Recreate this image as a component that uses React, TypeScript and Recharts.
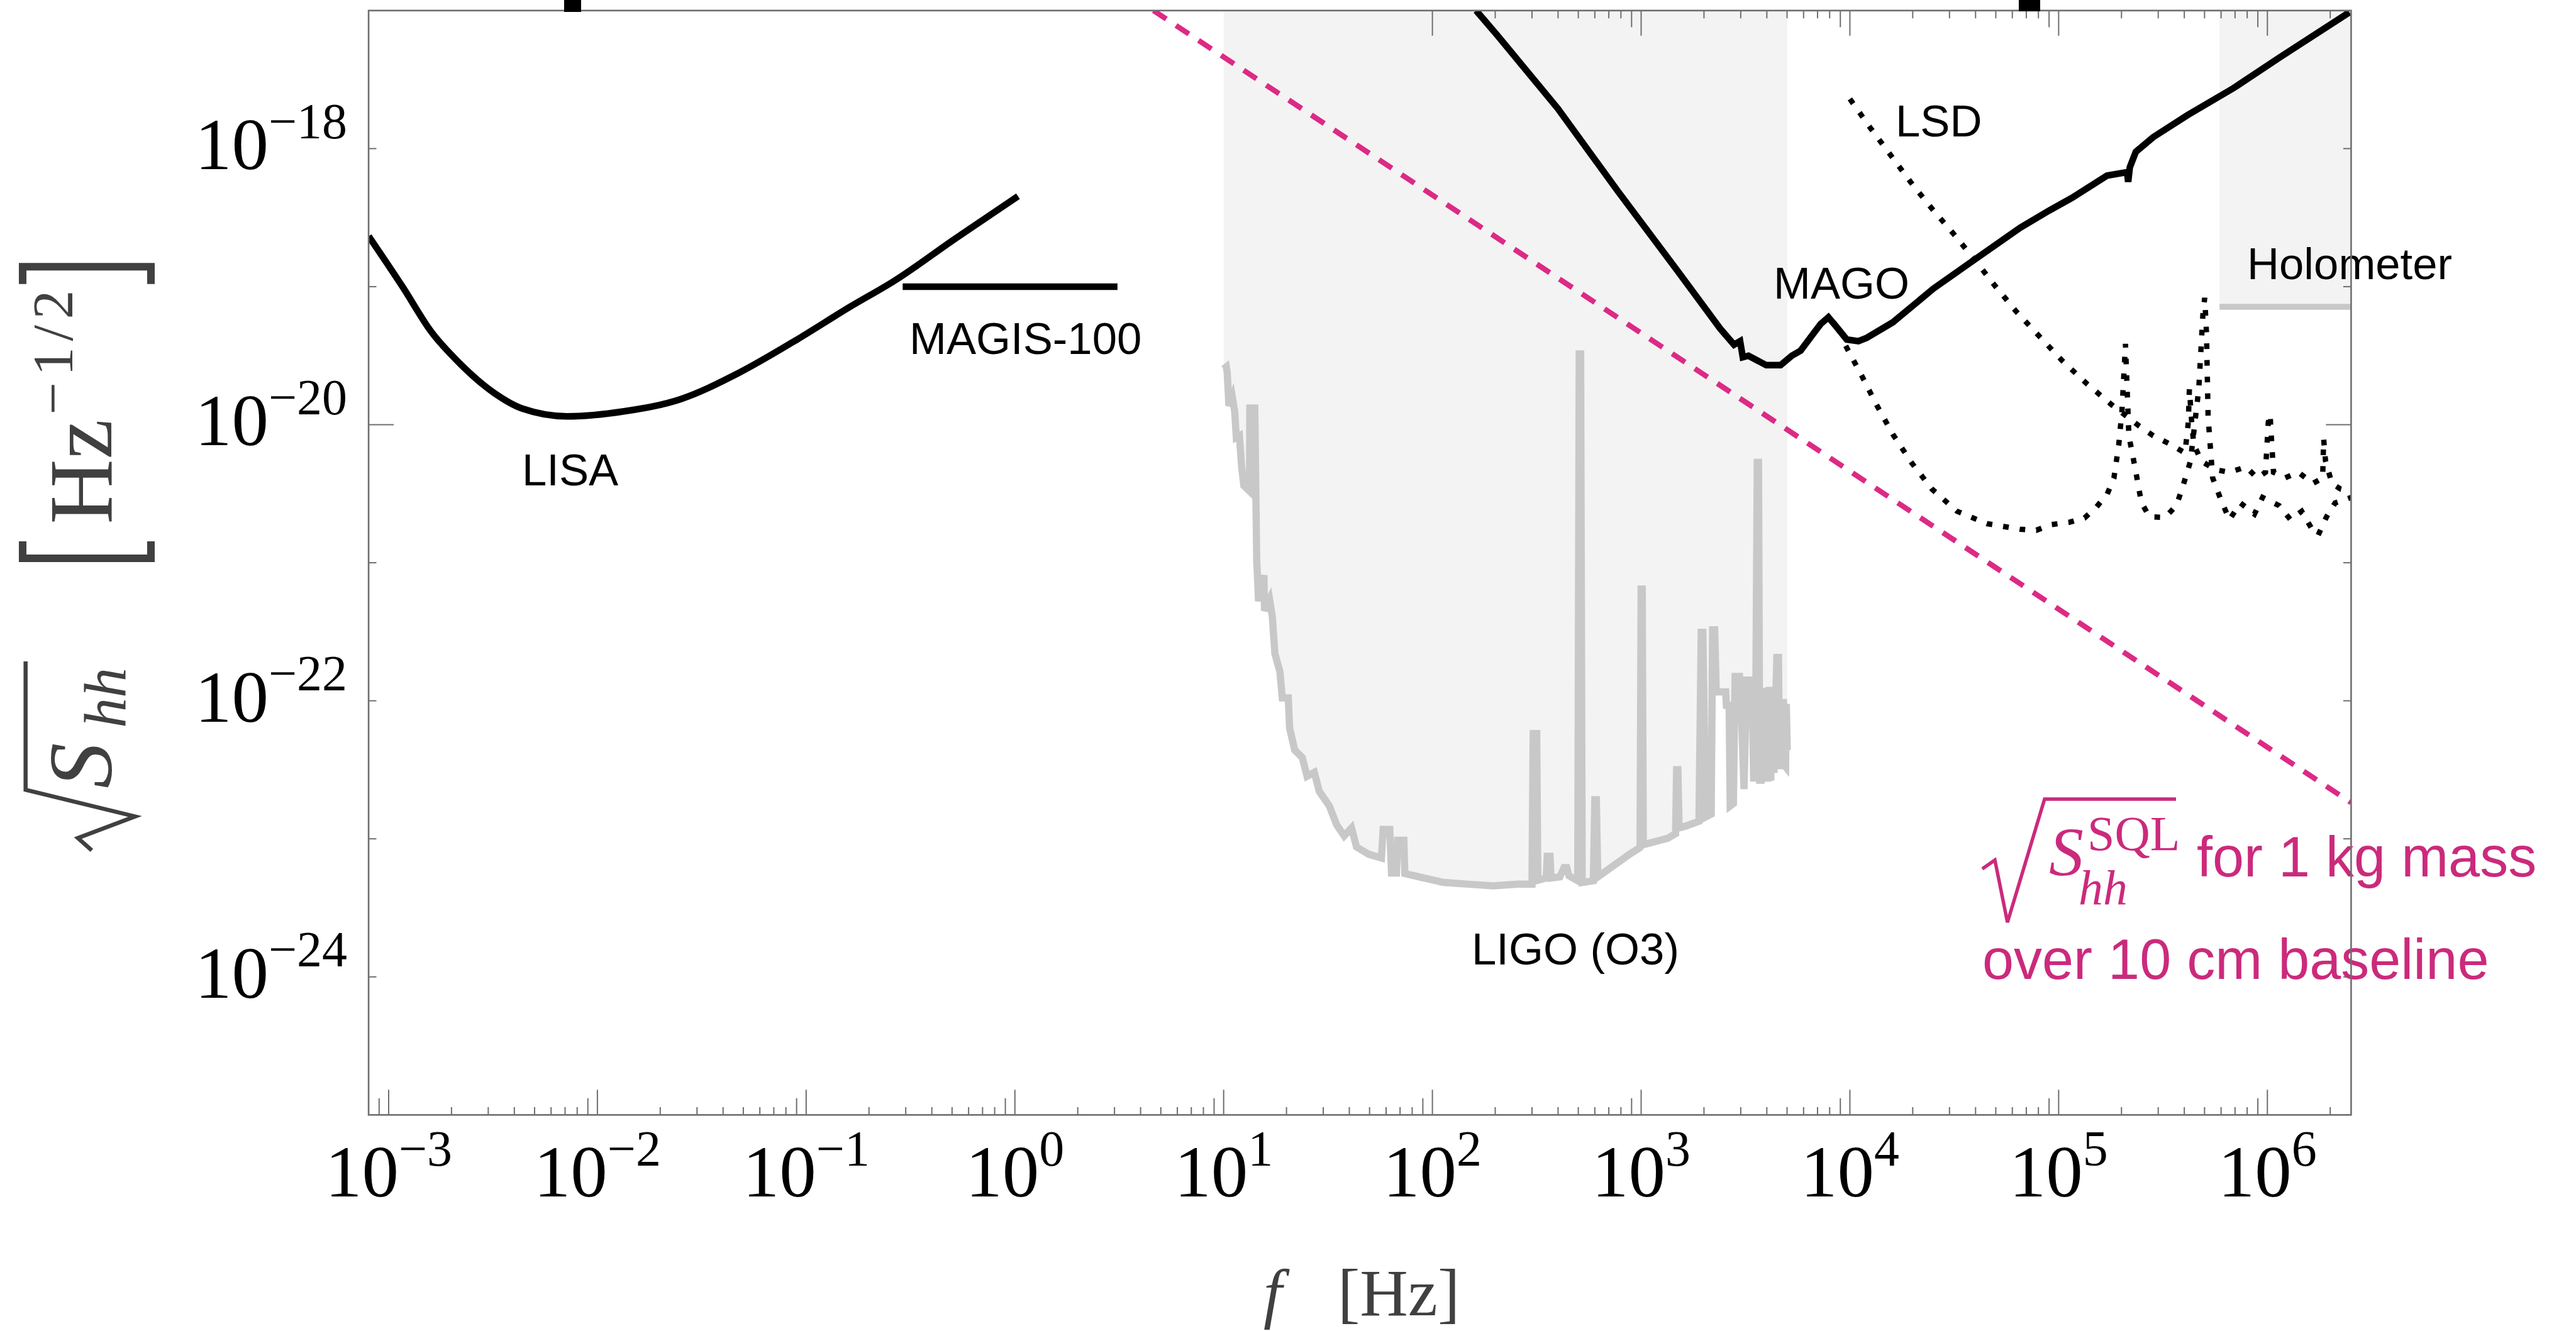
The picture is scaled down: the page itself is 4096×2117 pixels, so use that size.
import React from 'react'
import { ComposedChart, Line, Area, XAxis, YAxis } from 'recharts'

const W = 4096
const H = 2117
const PLOT = { left: 586.1, right: 3738.4, top: 16.8, bottom: 1773.3 }

const F_MIN = 8.015e-4
const F_MAX = 2.518e6
const S_MIN = 1e-25
const S_MAX = 1e-17

// tick layout (exponents)
const X_DECADES = [-4, -3, -2, -1, 0, 1, 2, 3, 4, 5, 6]
const X_MULT = [1, 2, 3, 4, 5, 6, 7, 8, 9]
const Y_DECADES = [-24, -23, -22, -21, -20, -19, -18]
const Y_LABELED = [-24, -22, -20, -18]
const TOP_TICKS_FROM = 100

const FRAME = '#6e6e6e'
const LIGO_GRAY = '#c8c8c8'
const SHADE = '#f3f3f3'
const PINK = '#dc2a85'
const PINK_TEXT = '#cb2a7c'
const TITLE = '#404040'

// [f (Hz), sqrt(S_hh)]
const lisa: [number, number][] = [
  [8.02e-4, 2.32e-19], [1.17e-3, 9.89e-20], [1.6e-3, 4.71e-20], [2.19e-3, 2.78e-20],
  [3.18e-3, 1.71e-20], [4.36e-3, 1.31e-20], [7.16e-3, 1.15e-20], [1.34e-2, 1.25e-20],
  [2.5e-2, 1.53e-20], [4.7e-2, 2.35e-20], [8.79e-2, 4.03e-20], [0.164, 7.21e-20],
  [0.264, 1.1e-19], [0.514, 2.21e-19], [1.035, 4.52e-19],
]

const magis100: [number, number][] = [[0.29, 1.0e-19], [3.1, 1.0e-19]]

const mago: [number, number][] = [
  [162, 1.0e-17], [204, 6.65e-18], [399, 1.95e-18], [773, 4.92e-19], [1500, 1.29e-19],
  [2388, 4.98e-20], [2786, 3.8e-20], [2979, 4.03e-20], [3069, 3.08e-20], [3266, 3.16e-20],
  [3972, 2.7e-20], [4656, 2.7e-20], [5272, 3.16e-20], [5808, 3.44e-20], [6607, 4.46e-20],
  [7244, 5.36e-20], [7889, 6.0e-20], [8492, 5.26e-20], [9661, 4.14e-20], [10990, 4.03e-20],
  [12050, 4.26e-20], [16070, 5.52e-20], [25180, 9.7e-20], [39360, 1.56e-19], [65460, 2.67e-19],
  [90160, 3.56e-19], [115900, 4.4e-19], [170600, 6.37e-19], [212800, 6.75e-19], [215300, 5.75e-19],
  [219300, 7.33e-19], [234400, 9.48e-19], [283800, 1.21e-18], [415000, 1.75e-18],
  [690200, 2.75e-18], [1148000, 4.59e-18], [2472000, 9.72e-18],
]

const lsdUpper: [number, number][] = [
  [1.0e4, 2.29e-18], [1.25e4, 1.42e-18], [1.56e4, 9.06e-19], [1.95e4, 5.75e-19], [2.44e4, 3.76e-19],
  [3.14e4, 2.41e-19], [3.94e4, 1.58e-19], [4.97e4, 1.01e-19], [6.28e4, 6.58e-20], [8.07e4, 4.38e-20],
  [1.04e5, 2.91e-20], [1.36e5, 1.99e-20], [1.8e5, 1.39e-20], [2.42e5, 9.84e-21], [2.84e5, 8.32e-21],
  [3.45e5, 7.18e-21], [4.03e5, 6.24e-21], [4.18e5, 1.04e-20], [4.23e5, 1.81e-20], [4.34e5, 1.04e-20],
  [4.44e5, 7.18e-21], [4.84e5, 5.43e-21], [5.64e5, 4.73e-21], [6.58e5, 4.52e-21], [7.91e5, 4.95e-21],
  [8.93e5, 4.11e-21], [9.79e5, 4.52e-21], [1.01e6, 1.04e-20], [1.03e6, 1.19e-20], [1.05e6, 7.18e-21],
  [1.07e6, 4.52e-21], [1.21e6, 4.11e-21], [1.41e6, 4.52e-21], [1.65e6, 3.75e-21], [1.84e6, 4.11e-21],
  [1.86e6, 7.87e-21], [1.9e6, 5.43e-21], [2.04e6, 3.75e-21], [2.24e6, 3.42e-21], [2.518e6, 3.27e-21],
]

const lsdLower: [number, number][] = [
  [9.55e3, 3.73e-20], [1.14e4, 2.26e-20], [1.35e4, 1.37e-20], [1.61e4, 8.47e-21], [1.97e4, 5.33e-21],
  [2.47e4, 3.42e-21], [3.26e4, 2.36e-21], [4.53e4, 1.92e-21], [6.52e4, 1.75e-21], [7.82e4, 1.72e-21],
  [9.23e4, 1.89e-21], [1.12e5, 1.96e-21], [1.33e5, 2.11e-21], [1.52e5, 2.54e-21], [1.71e5, 3.15e-21],
  [1.84e5, 4.11e-21], [1.94e5, 7.11e-21], [2.01e5, 1.25e-20], [2.09e5, 3.85e-20], [2.17e5, 8.32e-21],
  [2.33e5, 4.77e-21], [2.49e5, 2.74e-21], [2.72e5, 2.15e-21], [3.24e5, 2.13e-21], [3.67e5, 2.61e-21],
  [3.9e5, 3.42e-21], [4.28e5, 5.43e-21], [4.69e5, 1.81e-20], [4.92e5, 6.64e-20], [5.01e5, 8.3e-20],
  [5.11e5, 4.58e-20], [5.2e5, 1.14e-20], [5.47e5, 4.11e-21], [6.0e5, 2.84e-21], [6.58e5, 2.05e-21],
  [7.43e5, 2.71e-21], [8.67e5, 2.25e-21], [9.48e5, 2.97e-21], [1.14e6, 2.59e-21], [1.29e6, 2.05e-21],
  [1.46e6, 2.36e-21], [1.65e6, 1.71e-21], [1.75e6, 1.58e-21], [1.92e6, 2.15e-21], [2.11e6, 2.71e-21],
  [2.518e6, 2.97e-21],
]

const ligoO3: [number, number][] = [
  [10.0, 2.53e-20], [10.3, 2.62e-20], [10.4, 2.39e-20], [10.6, 1.37e-20], [11.0, 1.59e-20],
  [11.3, 1.24e-20], [11.5, 8.09e-21], [11.9, 8.32e-21], [12.2, 4.91e-21], [12.5, 3.61e-21],
  [13.3, 3.3e-21], [13.35, 1.32e-20], [14.1, 1.32e-20], [14.4, 1.04e-21], [14.7, 5.26e-22],
  [15.6, 8.13e-22], [15.7, 4.49e-22], [16.6, 5.41e-22], [17.1, 4.09e-22], [17.6, 2.2e-22],
  [18.6, 1.62e-22], [19.1, 1.05e-22], [20.4, 1.05e-22], [20.7, 6.35e-23], [21.9, 4.39e-23],
  [23.8, 3.88e-23], [25.1, 2.84e-23], [27.2, 3.03e-23], [28.7, 2.21e-23], [32.1, 1.73e-23],
  [34.8, 1.26e-23], [37.8, 1.05e-23], [41.0, 1.2e-23], [43.3, 8.73e-24], [49.5, 7.74e-24],
  [57.0, 7.26e-24], [58.1, 1.17e-23], [62.5, 1.17e-23], [63.7, 5.65e-24], [67.3, 5.65e-24],
  [68.2, 9.77e-24], [73.0, 9.77e-24], [73.8, 5.6e-24], [86.1, 5.3e-24], [113, 4.83e-24],
  [149, 4.69e-24], [196, 4.56e-24], [256, 4.69e-24], [300, 4.69e-24], [304, 5.79e-23],
  [316, 5.79e-23], [320, 5.01e-24], [351, 5.2e-24], [355, 7.46e-24], [366, 7.46e-24],
  [370, 5.2e-24], [408, 5.3e-24], [427, 6.19e-24], [440, 6.19e-24], [451, 5.4e-24],
  [497, 4.97e-24], [505, 3.25e-20], [513, 3.25e-20], [522, 4.83e-24], [590, 4.97e-24],
  [600, 1.92e-23], [610, 1.92e-23], [620, 5.3e-24], [890, 7.82e-24], [988, 8.65e-24],
  [1000, 6.44e-22], [1012, 6.44e-22], [1024, 9.06e-24], [1343, 1.01e-23], [1462, 1.09e-23],
  [1479, 3.17e-23], [1500, 3.17e-23], [1520, 1.2e-23], [1644, 1.24e-23], [1892, 1.34e-23],
  [1940, 3.13e-22], [1975, 3.13e-22], [2040, 1.44e-23], [2166, 1.51e-23], [2200, 3.27e-22],
  [2250, 3.27e-22], [2290, 1.16e-22], [2541, 1.16e-22], [2560, 9.29e-23], [2640, 9.29e-23],
  [2670, 1.73e-23], [2767, 1.8e-23], [2818, 1.5e-22], [2960, 1.5e-22], [3040, 6.35e-23],
  [3110, 2.29e-23], [3200, 1.41e-22], [3400, 1.41e-22], [3460, 2.6e-23], [3500, 1.1e-22],
  [3524, 2.75e-23], [3600, 5.33e-21], [3650, 5.33e-21], [3700, 2.5e-23], [3730, 1.15e-22],
  [3758, 2.51e-23], [3828, 1.2e-22], [3900, 2.6e-23], [3980, 1.24e-22], [4040, 2.6e-23],
  [4100, 1.26e-22], [4178, 2.63e-23], [4260, 1.0e-22], [4330, 3.0e-23], [4467, 2.06e-22],
  [4550, 2.06e-22], [4600, 3.2e-23], [4721, 6.97e-23], [4805, 1.03e-22], [4860, 3.4e-23],
  [4922, 3.32e-23], [4960, 9.5e-23], [5012, 4.39e-23],
]

const holometer: [number, number][] = [[5.9e5, 7.15e-20], [2.518e6, 7.15e-20]]

// SQL for 1 kg over 10 cm, falls as 1/f
const sql: [number, number][] = [[4.61, 1.0e-17], [2.518e6, 1.83e-23]]

const rows = (pts: [number, number][]) => pts.map(([f, s]) => ({ f, s }))

const xTicks: number[] = []
X_DECADES.forEach((k) =>
  X_MULT.forEach((m) => {
    const v = m * Math.pow(10, k)
    if (v >= F_MIN && v <= F_MAX) xTicks.push(v)
  })
)
const yTicks = Y_DECADES.map((e) => Math.pow(10, e))

const minus = (n: number) => (n < 0 ? '\u2212' + -n : String(n))

function XTick(props: any) {
  const { x, y, payload } = props
  const v = payload.value as number
  const k = Math.floor(Math.log10(v) + 1e-9)
  const m = Math.round(v / Math.pow(10, k))
  const len = m === 1 ? 40 : m === 9 ? 26.5 : 12.4
  return (
    <g>
      <line x1={x} x2={x} y1={y} y2={y - len} stroke={FRAME} strokeWidth={2} />
      {v >= TOP_TICKS_FROM * 0.999 && (
        <line x1={x} x2={x} y1={PLOT.top} y2={PLOT.top + len} stroke={FRAME} strokeWidth={2} />
      )}
      {m === 1 && (
        <text x={x} y={y + 129.7} textAnchor="middle" fontFamily="Liberation Serif" fontSize={117} fill="#000">
          10<tspan dy={-49} fontSize={80}>{minus(k)}</tspan>
        </text>
      )}
    </g>
  )
}

function YTick(props: any) {
  const { x, y, payload } = props
  const e = Math.round(Math.log10(payload.value))
  const len = e === -20 ? 40 : 12.4
  return (
    <g>
      <line x1={x} x2={x + len} y1={y} y2={y} stroke={FRAME} strokeWidth={2} />
      <line x1={PLOT.right} x2={PLOT.right - len} y1={y} y2={y} stroke={FRAME} strokeWidth={2} />
      {Y_LABELED.includes(e) && (
        <text x={x - 34} y={y + 33} textAnchor="end" fontFamily="Liberation Serif" fontSize={117} fill="#000">
          10<tspan dy={-49.5} fontSize={80}>{minus(e)}</tspan>
        </text>
      )}
    </g>
  )
}

function Overlay() {
  return (
    <svg width={W} height={H} style={{ position: 'absolute', left: 0, top: 0, pointerEvents: 'none' }}>
      {/* curve labels */}
      <g fontFamily="Liberation Sans, Arial, sans-serif" fontSize={70.7} fill="#000">
        <text x={830} y={772}>LISA</text>
        <text x={1446} y={563}>MAGIS-100</text>
        <text x={2340} y={1534}>LIGO (O3)</text>
        <text x={2820} y={475}>MAGO</text>
        <text x={3014} y={217}>LSD</text>
        <text x={3573} y={444}>Holometer</text>
      </g>

      {/* SQL annotation */}
      <g fill={PINK_TEXT}>
        <path
          d="M3152,1382 L3172,1368 L3192,1467 L3251,1271 L3460,1271"
          stroke={PINK_TEXT} strokeWidth={5.5} fill="none" strokeLinejoin="miter"
        />
        <text x={3258} y={1392} fontFamily="Liberation Serif" fontStyle="italic" fontSize={110}>S</text>
        <text x={3319} y={1352} fontFamily="Liberation Serif" fontSize={78}>SQL</text>
        <text x={3305} y={1439} fontFamily="Liberation Serif" fontStyle="italic" fontSize={78}>hh</text>
        <text x={3493} y={1394} fontFamily="Liberation Sans, Arial, sans-serif" fontSize={90}>for 1 kg mass</text>
        <text x={3152} y={1557} fontFamily="Liberation Sans, Arial, sans-serif" fontSize={90}>over 10 cm baseline</text>
      </g>

      {/* y axis title */}
      <g transform="rotate(-90)" fill={TITLE} fontFamily="Liberation Serif">
        <path
          d="M-1352.5,145.9 L-1333,123.8 L-1298.6,214.8 L-1256.2,40.7 L-1052,40.7"
          stroke={TITLE} strokeWidth={6.5} fill="none"
        />
        <text x={-1254} y={177} fontStyle="italic" fontSize={145}>S</text>
        <text x={-1158} y={200} fontStyle="italic" fontSize={96}>hh</text>
        <path d="M-861,36 L-888,36 L-888,240 L-861,240" stroke={TITLE} strokeWidth={12} fill="none" />
        <text x={-833.6} y={177} fontSize={143}>Hz</text>
        <text x={-659.5} y={115} fontSize={92} textLength={198} lengthAdjust="spacing">{'\u22121/2'}</text>
        <path d="M-451.7,36 L-424.3,36 L-424.3,240 L-451.7,240" stroke={TITLE} strokeWidth={12} fill="none" />
      </g>

      {/* x axis title */}
      <text y={2092} fontFamily="Liberation Serif" fontSize={106} fill={TITLE}>
        <tspan x={2009} fontStyle="italic">f</tspan>
        <tspan x={2127}>[Hz]</tspan>
      </text>

      {/* frame */}
      <rect
        x={PLOT.left} y={PLOT.top} width={PLOT.right - PLOT.left} height={PLOT.bottom - PLOT.top}
        fill="none" stroke={FRAME} strokeWidth={2.6}
      />

      {/* bits of a cropped heading above the frame */}
      <rect x={897} y={0} width={27} height={19} fill="#000" />
      <rect x={3210} y={0} width={34} height={18} fill="#000" />
    </svg>
  )
}

export default function App() {
  return (
    <div style={{ position: 'absolute', left: 0, top: 0, width: W, height: H, background: '#fff', overflow: 'hidden' }}>
      <ComposedChart width={W} height={H} margin={{ top: PLOT.top, right: W - PLOT.right, bottom: 0, left: 0 }}>
        <XAxis
          dataKey="f" type="number" scale="log" domain={[F_MIN, F_MAX]} allowDataOverflow
          ticks={xTicks} interval={0} tick={<XTick />} tickLine={false} axisLine={false}
          tickSize={0} tickMargin={0} height={H - PLOT.bottom}
        />
        <YAxis
          type="number" scale="log" domain={[S_MIN, S_MAX]} allowDataOverflow
          ticks={yTicks} interval={0} tick={<YTick />} tickLine={false} axisLine={false}
          tickSize={0} tickMargin={0} width={PLOT.left}
        />

        <Area
          data={rows(ligoO3)} dataKey="s" type="linear" baseValue={S_MAX}
          stroke={LIGO_GRAY} strokeWidth={11.5} fill={SHADE} fillOpacity={1}
          dot={false} activeDot={false} isAnimationActive={false}
        />
        <Area
          data={rows(holometer)} dataKey="s" type="linear" baseValue={S_MAX}
          stroke={LIGO_GRAY} strokeWidth={9.5} fill={SHADE} fillOpacity={1}
          dot={false} activeDot={false} isAnimationActive={false}
        />

        <Line data={rows(lisa)} dataKey="s" type="monotone" stroke="#000" strokeWidth={10.5} dot={false} activeDot={false} isAnimationActive={false} />
        <Line data={rows(magis100)} dataKey="s" stroke="#000" strokeWidth={10.5} dot={false} activeDot={false} isAnimationActive={false} />
        <Line data={rows(mago)} dataKey="s" stroke="#000" strokeWidth={10.5} dot={false} activeDot={false} isAnimationActive={false} />

        <Line data={rows(lsdUpper)} dataKey="s" stroke="#000" strokeWidth={8.5} strokeDasharray="9 17.5" dot={false} activeDot={false} isAnimationActive={false} />
        <Line data={rows(lsdLower)} dataKey="s" stroke="#000" strokeWidth={8.5} strokeDasharray="9 17.5" dot={false} activeDot={false} isAnimationActive={false} />

        <Line data={rows(sql)} dataKey="s" stroke={PINK} strokeWidth={8.5} strokeDasharray="24.5 18.5" dot={false} activeDot={false} isAnimationActive={false} />
      </ComposedChart>
      <Overlay />
    </div>
  )
}
